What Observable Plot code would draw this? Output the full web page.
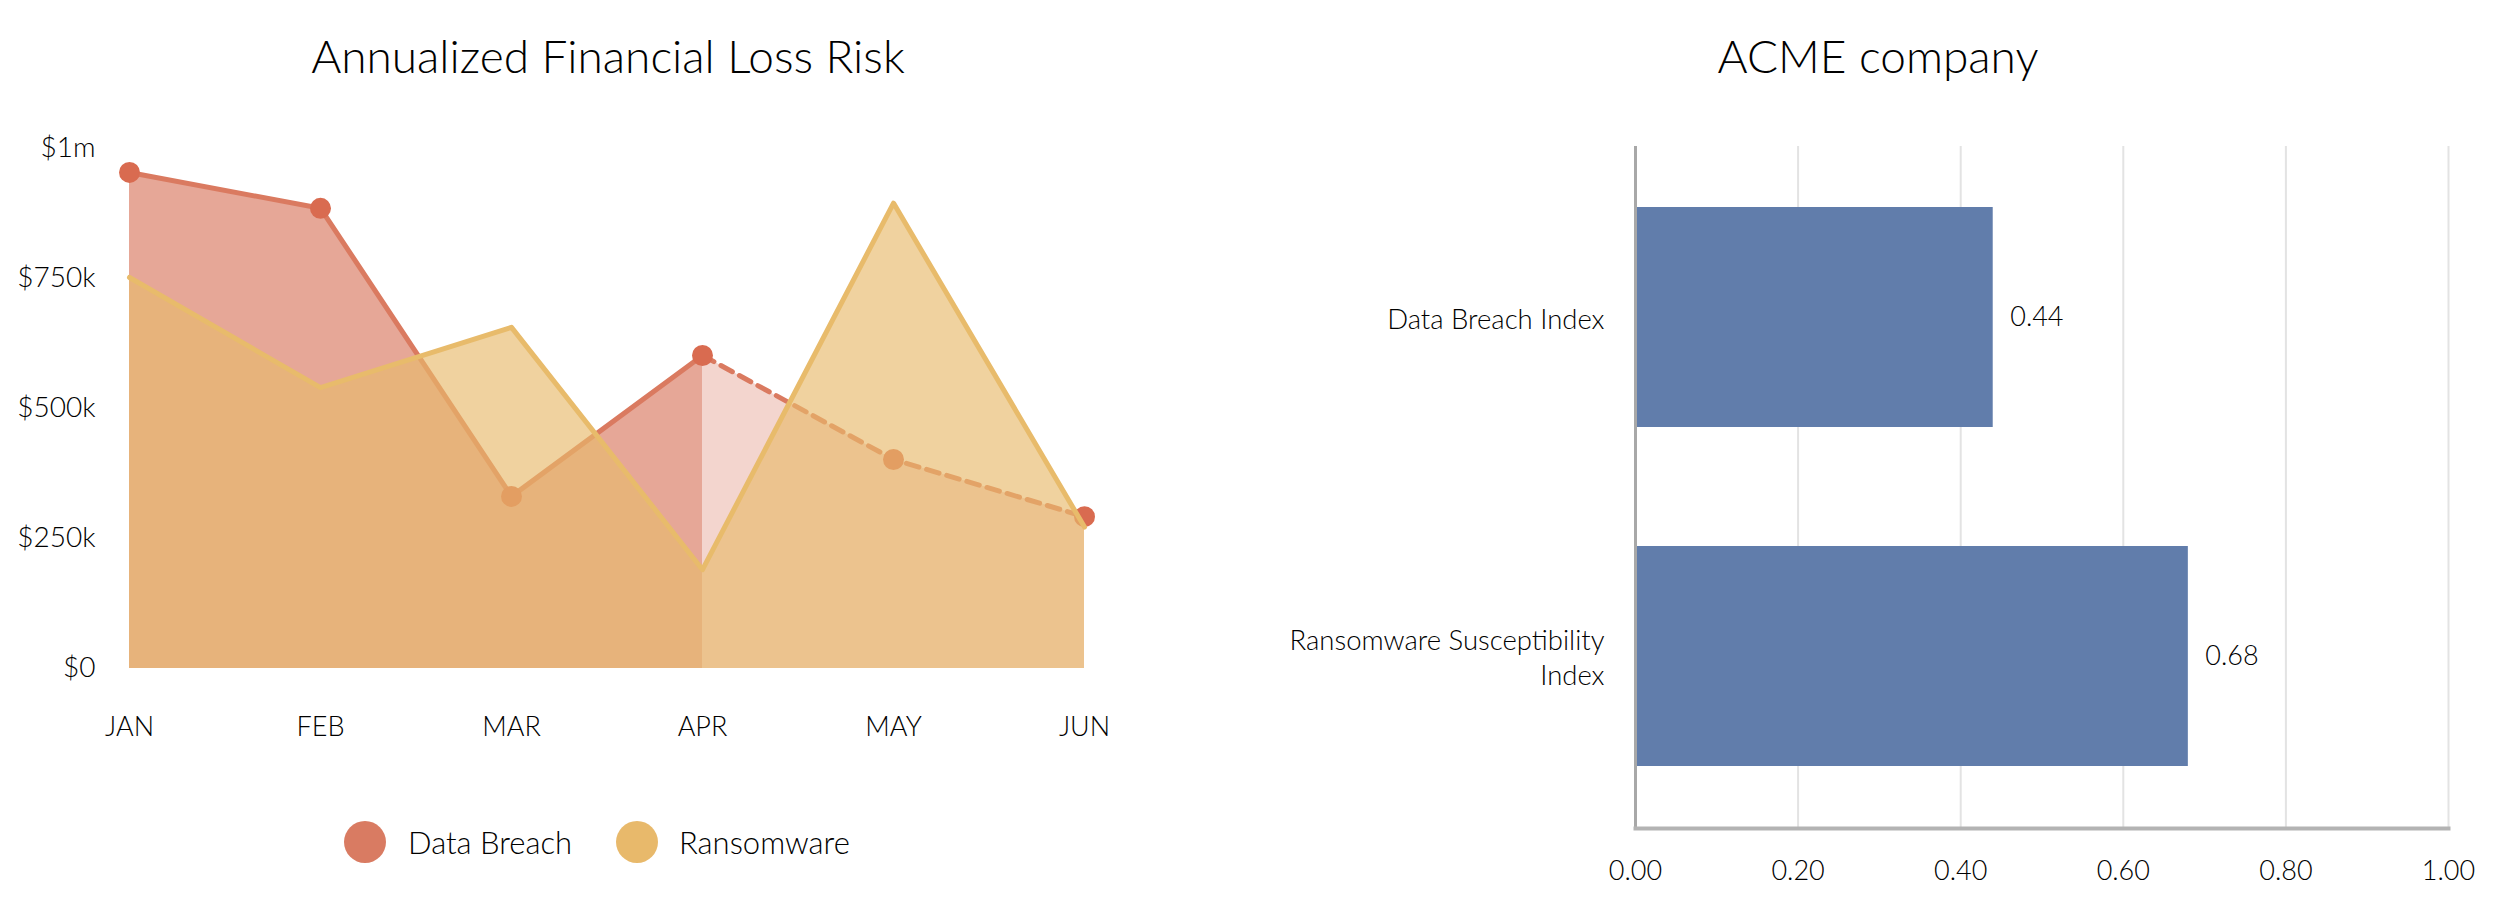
<!DOCTYPE html>
<html>
<head>
<meta charset="utf-8">
<script src="https://cdn.jsdelivr.net/npm/d3@7"></script>
<script src="https://cdn.jsdelivr.net/npm/@observablehq/plot@0.6"></script>
<style>
  html, body { margin: 0; padding: 0; background: #fff; }
  body { width: 2510px; height: 924px; position: relative; overflow: hidden; font-family: Lato, "Noto Sans", sans-serif; font-weight: 300; color: #000; }
  .title { position: absolute; top: 24px; font-size: 46px; font-weight: 300; transform: translateX(-50%); white-space: nowrap; line-height: 64px; }
  .panel { position: absolute; top: 0; }
  .leg-dot { position: absolute; width: 42px; height: 42px; border-radius: 50%; top: 821px; }
  .leg-txt { position: absolute; top: 842px; transform: translateY(-50%); font-size: 31px; font-weight: 300; white-space: nowrap; }
</style>
</head>
<body>
<div class="title" style="left:608px">Annualized Financial Loss Risk</div>
<div class="title" style="left:1878px">ACME company</div>
<div id="left" class="panel" style="left:0"></div>
<div id="right" class="panel" style="left:1255px"></div>
<div class="leg-dot" style="left:344px;background:#d97b62"></div>
<div class="leg-txt" style="left:408px">Data Breach</div>
<div class="leg-dot" style="left:616px;background:#e8b96b"></div>
<div class="leg-txt" style="left:679px">Ransomware</div>
<script>
// ---- Data: left chart ----
const months = ["JAN", "FEB", "MAR", "APR", "MAY", "JUN"];
const dataBreach = [954000, 885000, 331000, 602000, 402000, 292000];
const ransomware = [752000, 540000, 656000, 190000, 895000, 272000];
const forecastStart = "APR";
const yTicks = [0, 250000, 500000, 750000, 1000000];
const yTickLabels = ["$0", "$250k", "$500k", "$750k", "$1m"];

// ---- Data: right chart ----
const indexNames = ["Data Breach Index", "Ransomware Susceptibility Index"];
const indexLabels = ["Data Breach Index", "Ransomware Susceptibility\nIndex"];
const indexValues = [0.44, 0.68];
const xTicks = [0, 0.2, 0.4, 0.6, 0.8, 1.0];

const rows = months.map((m, i) => ({month: m, db: dataBreach[i], rw: ransomware[i], i}));
const fIdx = months.indexOf(forecastStart);
const actual = rows.filter(d => d.i <= fIdx);
const forecast = rows.filter(d => d.i >= fIdx);

const dbColor = "rgb(217,120,96)";
const rwColor = "rgb(232,186,107)";

const left = Plot.plot({
  width: 1255,
  height: 780,
  marginTop: 148,
  marginBottom: 112,
  marginLeft: 128,
  marginRight: 171,
  style: {fontFamily: "Lato, 'Noto Sans', sans-serif", fontWeight: 300, color: "#000", background: "transparent"},
  x: {type: "point", domain: months, padding: 0},
  y: {domain: [0, 1000000]},
  marks: [
    Plot.areaY(actual, {x: "month", y: "db", fill: dbColor, fillOpacity: 0.65}),
    Plot.areaY(forecast, {x: "month", y: "db", fill: dbColor, fillOpacity: 0.31}),
    Plot.lineY(actual, {x: "month", y: "db", stroke: "#da7a60", strokeWidth: 5}),
    Plot.lineY(forecast, {x: "month", y: "db", stroke: "#da7a60", strokeWidth: 5, strokeDasharray: "13,8"}),
    Plot.dot(rows, {x: "month", y: "db", r: 10.5, fill: "#d96b50", stroke: null}),
    Plot.areaY(rows, {x: "month", y: "rw", fill: rwColor, fillOpacity: 0.65}),
    Plot.lineY(rows, {x: "month", y: "rw", stroke: "#e8bb6b", strokeWidth: 5}),
    Plot.axisY({ticks: yTicks, tickFormat: (d) => yTickLabels[yTicks.indexOf(d)], tickSize: 0, tickPadding: 33, fontSize: 28, label: null}),
    Plot.axisX({tickSize: 0, tickPadding: 48, fontSize: 27, label: null})
  ]
});
document.getElementById("left").appendChild(left);

const bars = indexNames.map((n, i) => ({name: n, label: indexLabels[i], value: indexValues[i]}));

const right = Plot.plot({
  width: 1255,
  height: 924,
  marginTop: 146,
  marginBottom: 96,
  marginLeft: 380,
  marginRight: 62,
  style: {fontFamily: "Lato, 'Noto Sans', sans-serif", fontWeight: 300, color: "#000", background: "transparent"},
  x: {domain: [0, 1]},
  y: {type: "band", domain: indexNames, paddingInner: 0.35, paddingOuter: 0.18},
  marks: [
    Plot.gridX({ticks: xTicks.slice(1), stroke: "#e3e3e3", strokeOpacity: 1, strokeWidth: 2}),
    Plot.barX(bars, {x: "value", y: "name", fill: "#617dab"}),
    Plot.ruleX([0], {stroke: "#a8a8a8", strokeWidth: 3}),
    Plot.frame({anchor: "bottom", stroke: "#b3b3b3", strokeWidth: 4}),
    Plot.text(bars, {x: "value", y: "name", text: d => d.value.toFixed(2), textAnchor: "start", dx: 17, fontSize: 27}),
    Plot.axisY({tickSize: 0, tickPadding: 31, fontSize: 27.5, lineHeight: 1.28, tickFormat: d => indexLabels[indexNames.indexOf(d)], label: null}),
    Plot.axisX({ticks: xTicks, tickFormat: d => d.toFixed(2), tickSize: 0, tickPadding: 32, fontSize: 27, label: null})
  ]
});
document.getElementById("right").appendChild(right);
</script>
</body>
</html>
